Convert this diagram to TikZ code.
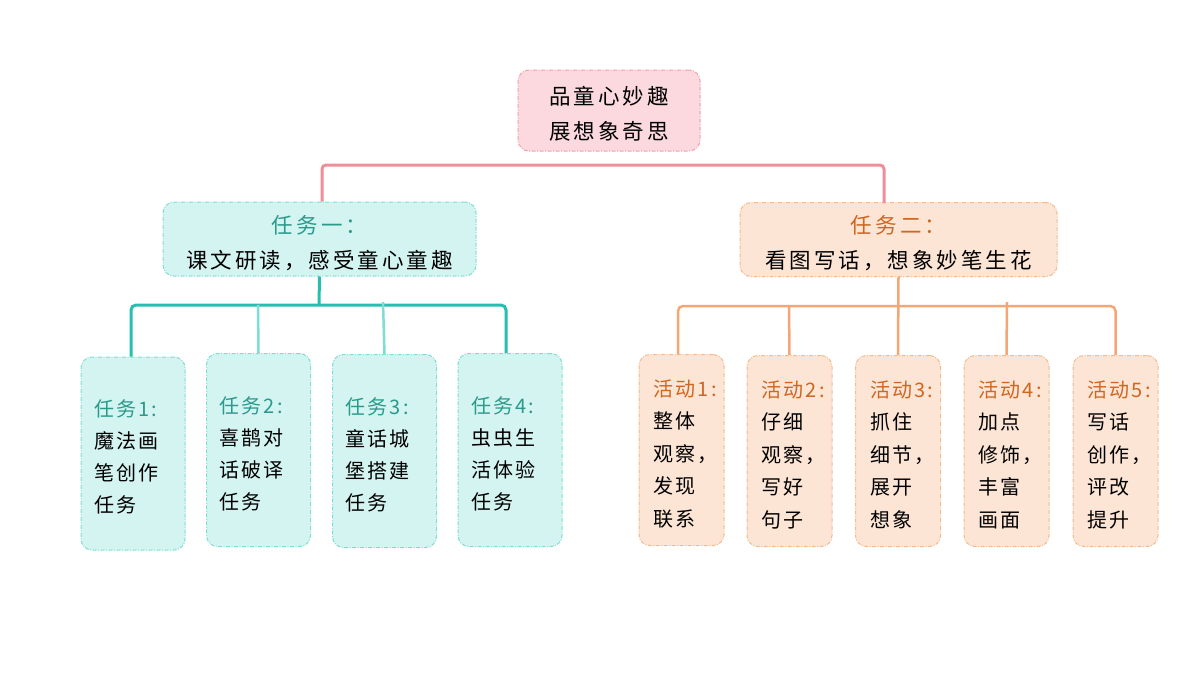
\documentclass[tikz,border=0pt]{standalone}
\usepackage{fontspec}
\setmainfont{Noto Sans CJK SC}
\newfontfamily\widefont[LetterSpace=14]{Noto Sans CJK SC}
\newfontfamily\leaffont[LetterSpace=11]{Noto Sans CJK SC}
\definecolor{pinkfill}{HTML}{FBD9DF}
\definecolor{pinkedge}{HTML}{F2A0AC}
\definecolor{pinkline}{HTML}{EF8E98}
\definecolor{tealfill}{HTML}{D3F4F1}
\definecolor{tealedge}{HTML}{80DDD3}
\definecolor{tealdark}{HTML}{25BFAF}
\definecolor{teallight}{HTML}{7EDDD4}
\definecolor{tealtext}{HTML}{2A9A8C}
\definecolor{orfill}{HTML}{FCE5D5}
\definecolor{oredge}{HTML}{F5B98C}
\definecolor{orline}{HTML}{F4A775}
\definecolor{ortext}{HTML}{D0661F}
\tikzset{
  box/.style={rounded corners=11pt, line width=1pt,
    dash pattern=on 4pt off 1.5pt on 1pt off 1.5pt, inner sep=0pt},
  rootbox/.style={box, fill=pinkfill, draw=pinkedge, minimum width=182pt, minimum height=81pt,
    align=center, font=\widefont\fontsize{21.5}{35}\selectfont},
  tealbox/.style={box, fill=tealfill, draw=tealedge},
  orbox/.style={box, fill=orfill, draw=oredge},
  midbox/.style={minimum height=74pt, align=center, font=\widefont\fontsize{21.5}{35}\selectfont},
  tleaf/.style={tealbox, minimum width=104pt, minimum height=193pt, text width=78pt,
    align=left, font=\leaffont\fontsize{20}{32}\selectfont,
    execute at begin node={\rule{0pt}{24pt}}},
  oleaf/.style={orbox, minimum width=85pt, minimum height=191pt, text width=56pt,
    align=left, font=\leaffont\fontsize{20}{32.5}\selectfont,
    execute at begin node={\rule{0pt}{24pt}}},
  pinkcon/.style={draw=pinkline, line width=3pt, rounded corners=4pt},
  tealcon/.style={draw=tealdark, line width=3pt, rounded corners=5pt},
  teallt/.style={draw=teallight, line width=2.5pt},
  orcon/.style={draw=orline, line width=2.5pt, rounded corners=5pt},
}
\begin{document}
\begin{tikzpicture}[x=1pt,y=-1pt]
\useasboundingbox (0,0) rectangle (1200,675);
\fill[white] (0,0) rectangle (1200,675);

\coordinate (pbar) at (609,165);
\coordinate (tbar) at (319,305);
\coordinate (obar) at (898,306);
\coordinate (t2top) at (884,203);
\coordinate (tj1) at (258,305);
\coordinate (tj2) at (383,302);
\coordinate (oj1) at (789,306);
\coordinate (oj2) at (1007,302);

\node[rootbox] (root) at (609,110.5) {\rule{0pt}{25pt}品童心妙趣\\展想象奇思};
\node[tealbox, midbox, minimum width=313pt] (t1) at (319.5,239)
  {\rule{0pt}{26pt}\textcolor{tealtext}{任务一：}\\课文研读，感受童心童趣};
\node[orbox, midbox, minimum width=317pt] (t2) at (898.5,239.5)
  {\rule{0pt}{26pt}\textcolor{ortext}{任务二：}\\看图写话，想象妙笔生花};

\node[tleaf] (l1) at (133,453.5) {\textcolor{tealtext}{任务1:}\\魔法画\\笔创作\\任务};
\node[tleaf] (l2) at (258.5,450) {\textcolor{tealtext}{任务2:}\\喜鹊对\\话破译\\任务};
\node[tleaf] (l3) at (384.5,451) {\textcolor{tealtext}{任务3:}\\童话城\\堡搭建\\任务};
\node[tleaf] (l4) at (510,450) {\textcolor{tealtext}{任务4:}\\虫虫生\\活体验\\任务};

\node[oleaf] (a1) at (681.5,450) {\textcolor{ortext}{活动1:}\\整体\\观察，\\发现\\联系};
\node[oleaf] (a2) at (789.5,451) {\textcolor{ortext}{活动2:}\\仔细\\观察，\\写好\\句子};
\node[oleaf] (a3) at (898,451) {\textcolor{ortext}{活动3:}\\抓住\\细节，\\展开\\想象};
\node[oleaf] (a4) at (1006.5,451) {\textcolor{ortext}{活动4:}\\加点\\修饰，\\丰富\\画面};
\node[oleaf] (a5) at (1115.5,451) {\textcolor{ortext}{活动5:}\\写话\\创作，\\评改\\提升};

\draw[pinkcon] ([xshift=2.5pt]t1.north) |- (pbar) -| (t2top);

\draw[tealcon] (t1.south) -- (tbar);
\draw[tealcon] ([xshift=-2pt]l1.north) |- (tbar) -| ([xshift=-4pt]l4.north);
\draw[teallt] (tj1) -- (l2.north);
\draw[teallt] (tj2) -- (l3.north);

\draw[orcon] (t2.south) -- (a3.north);
\draw[orcon] ([xshift=-3.5pt]a1.north) |- (obar) -| (a5.north);
\draw[orcon] (oj1) -- (a2.north);
\draw[orcon] (oj2) -- (a4.north);
\end{tikzpicture}
\end{document}
